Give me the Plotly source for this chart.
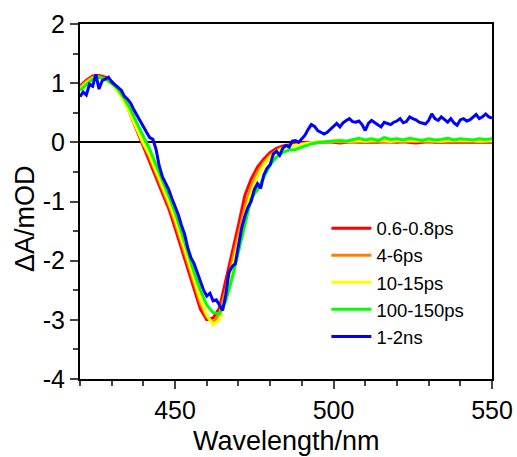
import plotly.graph_objects as go

# wavelength grids (nm)
wl2 = list(range(420, 551, 2))
wl1 = list(range(420, 551, 1))

labels = ["0.6-0.8ps", "4-6ps", "10-15ps", "100-150ps", "1-2ns"]
colors = ["#ff0000", "#ff8000", "#ffff00", "#00ff00", "#0000ff"]

red = [0.95, 1.05, 1.12, 1.13, 1.10, 1.03, 0.90, 0.72, 0.46, 0.20, -0.05, -0.32, -0.58, -0.85,
       -1.12, -1.45, -1.80, -2.15, -2.50, -2.82, -3.00, -2.97, -2.80, -2.33, -1.90, -1.40, -0.90,
       -0.62, -0.42, -0.28, -0.17, -0.10, -0.06, -0.04, -0.02, -0.01,
       0.00, -0.01, 0.00, 0.01, 0.00, -0.01, 0.00, 0.01, 0.00, 0.00, -0.01, 0.00, 0.01, 0.00,
       0.00, 0.01, 0.00, -0.01, 0.00, 0.01, 0.00, 0.00, 0.01, 0.00, 0.00, 0.01, 0.00, 0.00, 0.01, 0.00]

orange = [0.93, 1.03, 1.10, 1.11, 1.07, 1.00, 0.87, 0.70, 0.48, 0.24, 0.00, -0.26, -0.52, -0.78,
          -1.05, -1.35, -1.70, -2.05, -2.40, -2.72, -2.95, -3.05, -2.90, -2.50, -2.02, -1.55, -1.10,
          -0.75, -0.50, -0.34, -0.22, -0.14, -0.09, -0.06, -0.04, -0.02,
          -0.01, 0.00, 0.01, 0.01, 0.02, 0.01, 0.01, 0.02, 0.01, 0.02, 0.01, 0.02, 0.02, 0.01,
          0.02, 0.01, 0.02, 0.02, 0.01, 0.02, 0.02, 0.01, 0.02, 0.02, 0.01, 0.02, 0.02, 0.01, 0.02, 0.02]

yellow = [0.90, 1.00, 1.08, 1.10, 1.06, 0.99, 0.86, 0.68, 0.46, 0.22, -0.02, -0.22, -0.47, -0.73,
          -1.00, -1.28, -1.62, -1.97, -2.32, -2.65, -2.92, -3.08, -3.00, -2.60, -2.15, -1.68, -1.22,
          -0.85, -0.58, -0.38, -0.25, -0.16, -0.10, -0.07, -0.05, -0.03,
          -0.01, 0.00, 0.01, 0.02, 0.02, 0.03, 0.02, 0.03, 0.03, 0.02, 0.03, 0.04, 0.03, 0.02,
          0.03, 0.03, 0.02, 0.03, 0.04, 0.03, 0.03, 0.02, 0.03, 0.03, 0.04, 0.03, 0.03, 0.02, 0.03, 0.03]

green = [0.88, 0.98, 1.07, 1.10, 1.07, 1.00, 0.90, 0.74, 0.55, 0.32, 0.10, -0.12, -0.38, -0.63,
         -0.90, -1.18, -1.50, -1.85, -2.20, -2.50, -2.75, -2.88, -2.90, -2.68, -2.30, -1.85, -1.35,
         -0.95, -0.80, -0.60, -0.38, -0.25, -0.17, -0.13, -0.12, -0.08,
         -0.04, -0.01, 0.00, 0.01, 0.02, 0.03, 0.02, 0.05, 0.07, 0.04, 0.06, 0.03, 0.08, 0.05,
         0.06, 0.04, 0.07, 0.05, 0.03, 0.06, 0.04, 0.05, 0.07, 0.04, 0.06, 0.05, 0.04, 0.06, 0.05, 0.06]

blue = [0.77, 0.85, 0.80, 0.98, 0.95, 1.15, 0.90, 1.04, 1.07, 1.10,
        1.02, 0.98, 0.93, 0.88, 0.78, 0.73, 0.66, 0.55, 0.45, 0.35,
        0.27, 0.17, 0.08, 0.05, -0.12, -0.40, -0.58, -0.68, -0.80, -0.95,
        -1.08, -1.22, -1.40, -1.55, -1.78, -1.95, -2.05, -2.20, -2.38, -2.50,
        -2.60, -2.55, -2.68, -2.66, -2.75, -2.84, -2.58, -2.20, -2.10, -2.05,
        -1.75, -1.45, -1.25, -1.10, -1.00, -0.80, -0.70, -0.78, -0.55, -0.44,
        -0.38, -0.20, -0.15, -0.22, -0.10, -0.05, -0.08, 0.02, 0.03, 0.00,
        0.06, 0.12, 0.22, 0.30, 0.27, 0.20, 0.17, 0.14, 0.17, 0.22,
        0.28, 0.32, 0.26, 0.33, 0.37, 0.40, 0.35, 0.34, 0.36, 0.30,
        0.20, 0.32, 0.37, 0.33, 0.29, 0.26, 0.34, 0.32, 0.30, 0.34,
        0.36, 0.40, 0.33, 0.35, 0.43, 0.40, 0.38, 0.34, 0.33, 0.31,
        0.37, 0.48, 0.40, 0.37, 0.43, 0.38, 0.34, 0.40, 0.33, 0.29,
        0.38, 0.40, 0.36, 0.38, 0.42, 0.47, 0.40, 0.43, 0.48, 0.43,
        0.41]

series = [(wl2, red), (wl2, orange), (wl2, yellow), (wl2, green), (wl1, blue)]

x_ticks = [450, 500, 550]
x_ticktext = ["450", "500", "550"]
y_ticks = [-4, -3, -2, -1, 0, 1, 2]
y_ticktext = ["-4", "-3", "-2", "-1", "0", "1", "2"]

fig = go.Figure()
for (xs, ys), name, c in zip(series, labels, colors):
    fig.add_trace(go.Scatter(x=xs, y=ys, mode="lines", name=name,
                             line=dict(color=c, width=3)))

font = "Arial, Liberation Sans, sans-serif"
fig.update_layout(
    width=517, height=457,
    margin=dict(l=80, r=25, t=24, b=78),
    paper_bgcolor="white", plot_bgcolor="white",
    font=dict(family=font, color="black"),
    showlegend=True,
    legend=dict(x=0.598, y=0.477, xanchor="left", yanchor="top",
                font=dict(size=18.5, family=font), bgcolor="rgba(0,0,0,0)",
                tracegroupgap=0, itemwidth=40),
    annotations=[
        dict(text="ΔA/mOD", xref="paper", yref="paper", x=-0.1335, y=0.4535,
             xanchor="center", yanchor="middle", textangle=-90, showarrow=False,
             font=dict(size=27, family=font)),
        dict(text="Wavelength/nm", xref="paper", yref="paper", x=0.5, y=-0.1746,
             xanchor="center", yanchor="middle", showarrow=False,
             font=dict(size=27, family=font)),
    ],
)
fig.update_xaxes(range=[420, 550], tickvals=x_ticks, ticktext=x_ticktext, ticks="outside",
                 ticklen=8, tickwidth=2, automargin=False,
                 showline=True, linewidth=2, linecolor="black", mirror=True, showgrid=False,
                 zeroline=False, tickfont=dict(size=25),
                 minor=dict(dtick=10, ticks="outside", ticklen=5, tickwidth=2, showgrid=False))
fig.update_yaxes(range=[-4, 2], tickvals=y_ticks, ticktext=y_ticktext, ticks="outside",
                 ticklen=8, tickwidth=2, automargin=False,
                 showline=True, linewidth=2, linecolor="black", mirror=True, showgrid=False,
                 zeroline=True, zerolinecolor="black", zerolinewidth=1.5, tickfont=dict(size=25),
                 minor=dict(dtick=0.5, ticks="outside", ticklen=5, tickwidth=2, showgrid=False))

fig.write_html("out.html")
